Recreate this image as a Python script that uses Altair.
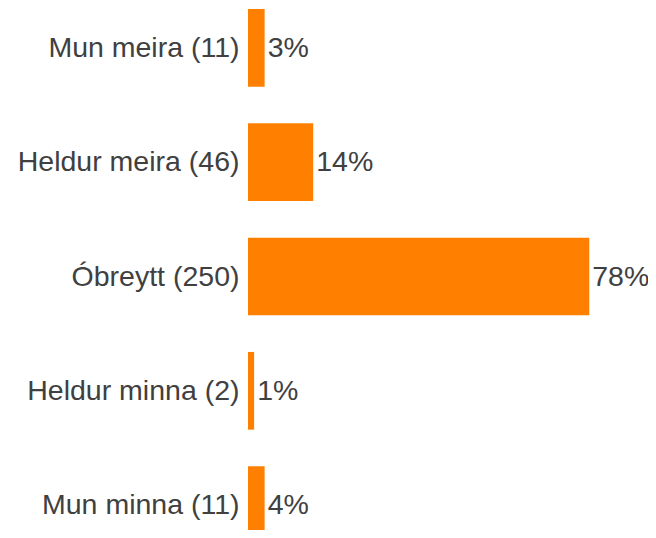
import altair as alt
import pandas as pd

categories = ["Mun meira (11)", "Heldur meira (46)", "Óbreytt (250)", "Heldur minna (2)", "Mun minna (11)"]
values = [3.8, 14.9, 78.0, 1.4, 3.8]
pct_labels = ["3%", "14%", "78%", "1%", "4%"]

df = pd.DataFrame({"cat": categories, "val": values, "lab": pct_labels})

FONT = "Liberation Sans"
GREY = "#404040"
FS = 28.5

y = alt.Y("cat:N", sort=categories, title=None,
          scale=alt.Scale(paddingInner=0.32, paddingOuter=0, range=[0, 535]),
          axis=alt.Axis(domain=False, ticks=False, tickSize=0, labelPadding=9,
                        labelFontSize=FS, labelFont=FONT, labelColor=GREY,
                        labelLimit=400, grid=False))
x = alt.X("val:Q", title=None, scale=alt.Scale(domain=[0, 80], nice=False),
          axis=None)

bars = alt.Chart(df).mark_bar(color="#FF8000").encode(x=x, y=y)
text = alt.Chart(df).mark_text(align="left", baseline="middle", dx=3,
                               fontSize=FS, font=FONT, color=GREY).encode(
    x=x, y=y, text="lab:N")

chart = (bars + text).properties(
    width=350, height=521,
    autosize=alt.AutoSizeParams(type="none"),
    padding={"left": 240, "top": 1, "right": 50, "bottom": 0},
).configure_view(stroke=None)

chart.save("out.html", embed_options={"renderer": "svg", "actions": False})
